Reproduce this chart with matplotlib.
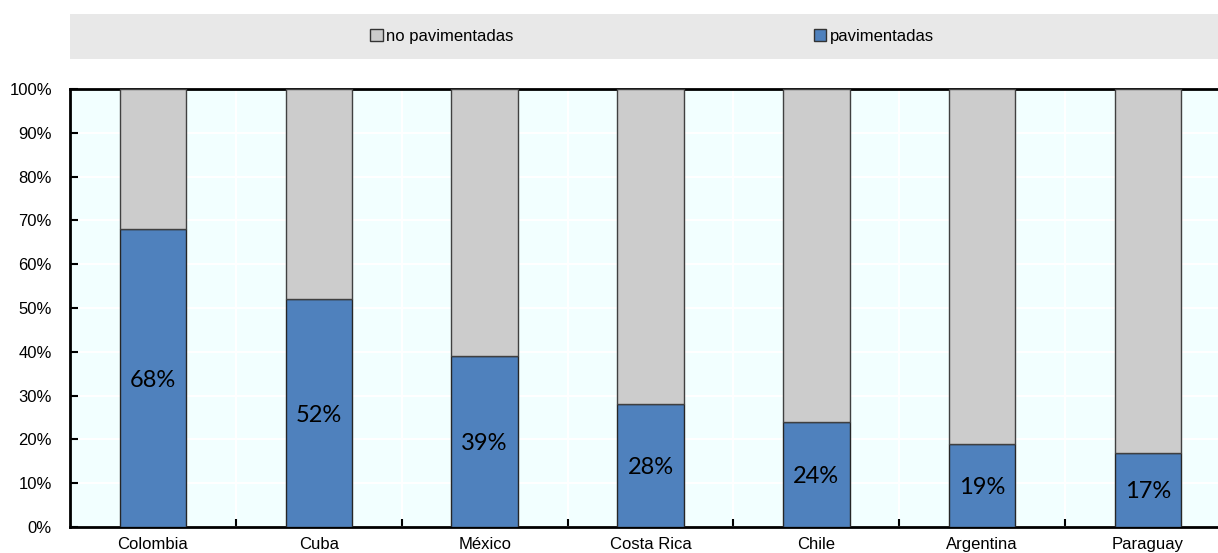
import numpy as np
import matplotlib.pyplot as plt
from matplotlib.patches import Patch
from matplotlib.ticker import PercentFormatter, FixedLocator

# Datos: porcentaje de carreteras pavimentadas por país
paises = ["Colombia", "Cuba", "México", "Costa Rica", "Chile", "Argentina", "Paraguay"]
pavimentadas = [68, 52, 39, 28, 24, 19, 17]
no_pavimentadas = [100 - v for v in pavimentadas]

azul = "#4F81BD"
gris = "#CCCCCC"
fondo = "#F2FFFF"

W, H = 1218, 553
fig = plt.figure(figsize=(W / 100, H / 100), dpi=100)

ax = fig.add_axes([70 / W, (H - 527) / H, (1231 - 70) / W, (527 - 89) / H])
ax.set_facecolor(fondo)

x = np.arange(len(paises))
ax.bar(x, pavimentadas, width=0.4, color=azul, edgecolor="#262626", linewidth=1, zorder=3)
ax.bar(x, no_pavimentadas, width=0.4, bottom=pavimentadas, color=gris,
       edgecolor="#404040", linewidth=1, zorder=3)

for xi, v in zip(x, pavimentadas):
    ax.text(xi, v / 2 - 0.5, f"{v}%", ha="center", va="center", fontsize=17,
            family="Lato", color="black", zorder=4)

ax.set_xlim(-0.5, len(paises) - 0.5)
ax.set_ylim(0, 100)
ax.set_xticks(x)
ax.set_xticklabels(paises, fontsize=12, family="Liberation Sans")
ax.xaxis.set_minor_locator(FixedLocator(x[:-1] + 0.5))
ax.tick_params(axis="x", which="major", length=0, pad=7)
ax.tick_params(axis="x", which="minor", direction="in", length=6, width=1.5)

ax.set_yticks(np.arange(0, 101, 10))
ax.yaxis.set_major_formatter(PercentFormatter(decimals=0))
ax.tick_params(axis="y", direction="in", length=6, width=1.5, pad=13, labelsize=12)
for lab in ax.get_yticklabels():
    lab.set_family("Liberation Sans")

ax.grid(axis="y", color="white", linewidth=1.5, zorder=1)
ax.grid(axis="x", which="minor", color="white", linewidth=1.5, zorder=1)
ax.set_axisbelow(True)

for s in ["left", "bottom", "top"]:
    ax.spines[s].set_linewidth(2)
    ax.spines[s].set_color("black")
ax.spines["right"].set_visible(False)

# Cabecera con la leyenda
cab = fig.add_axes([70 / W, (H - 59) / H, (1218 - 70) / W, 45 / H])
cab.set_facecolor("#E8E8E8")
cab.set_xticks([])
cab.set_yticks([])
for s in cab.spines.values():
    s.set_visible(False)

handles = [Patch(facecolor=gris, edgecolor="#333333", linewidth=1, label="no pavimentadas"),
           Patch(facecolor=azul, edgecolor="#333333", linewidth=1, label="pavimentadas")]
cab.legend(handles=handles, loc="center", bbox_to_anchor=(0.507, 0.5), ncol=2,
           frameon=False, handlelength=0.75, handleheight=0.75, handletextpad=0.2,
           columnspacing=18.0, prop={"family": "Liberation Sans", "size": 12})

fig.savefig("out.png", dpi=100)
